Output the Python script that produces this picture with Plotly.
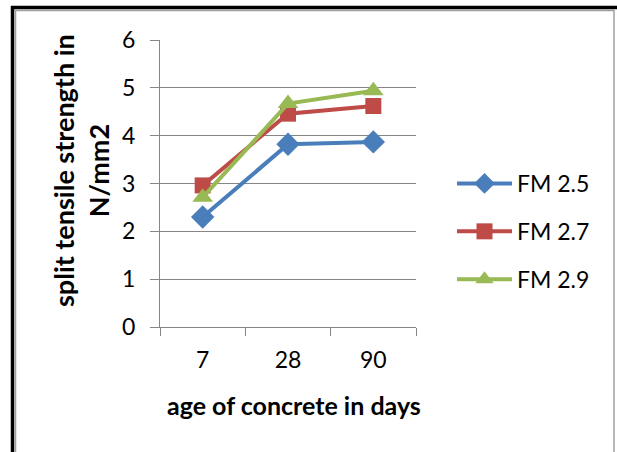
import plotly.graph_objects as go

ages = ["7", "28", "90"]
fm25 = [2.30, 3.82, 3.87]
fm27 = [2.96, 4.46, 4.62]
fm29 = [2.71, 4.67, 4.94]
series_names = ["FM 2.5", "FM 2.7", "FM 2.9"]
colors = ["#4A7EBB", "#BE4B48", "#98B954"]
symbols = ["diamond", "square", "triangle-up"]
marker_sizes = [18, 16, 18]

W, H = 617, 452
L, R, T, B = 160, 416, 40, 327

def px(x):
    return (x - L) / (R - L)

def py(y):
    return (B - y) / (B - T)

FONT = "Lato"
fig = go.Figure()
for i, vals in enumerate([fm25, fm27, fm29]):
    fig.add_trace(go.Scatter(
        x=ages, y=vals, name=series_names[i], mode="lines+markers",
        line=dict(color=colors[i], width=4),
        marker=dict(symbol=symbols[i], size=marker_sizes[i], color=colors[i]),
        legendgroup=series_names[i],
    ))

fig.update_layout(
    width=W, height=H,
    margin=dict(l=L, r=W - R, t=T, b=H - B),
    paper_bgcolor="white", plot_bgcolor="white",
    font=dict(family=FONT, size=23, color="#000000"),
    showlegend=True,
    legend=dict(x=px(452), y=py(162), xanchor="left", yanchor="top",
                traceorder="grouped", tracegroupgap=15,
                font=dict(family=FONT, size=23, color="#000000"),
                bgcolor="rgba(0,0,0,0)", itemwidth=55),
    xaxis=dict(type="category", range=[-0.5, 2.5], showgrid=False,
               showline=True, linecolor="#868686", linewidth=1,
               ticks="outside", tickson="boundaries", ticklen=8, tickcolor="#868686",
               tickfont=dict(family=FONT, size=23), ticklabelstandoff=12,
               zeroline=False),
    yaxis=dict(range=[0, 6], dtick=1, showgrid=True, gridcolor="#868686", gridwidth=1,
               showline=True, linecolor="#868686", linewidth=1,
               ticks="outside", ticklen=9, tickcolor="#868686",
               tickfont=dict(family=FONT, size=23), ticklabelstandoff=10,
               zeroline=False),
)

fig.add_annotation(x=px(81), y=py(171), xref="paper", yref="paper",
                   text="<b>split tensile strength in<br>N/mm2</b>", textangle=-90,
                   showarrow=False, font=dict(family=FONT, size=27),
                   xanchor="center", yanchor="middle")
fig.add_annotation(x=px(294), y=py(405), xref="paper", yref="paper",
                   text="<b>age of concrete in days</b>",
                   showarrow=False, font=dict(family=FONT, size=25),
                   xanchor="center", yanchor="middle")

# chart frame
fig.add_shape(type="line", xref="paper", yref="paper", x0=px(15.5), x1=px(15.5), y0=py(10), y1=py(460),
              line=dict(color="#A0A0A0", width=1.5))
fig.add_shape(type="line", xref="paper", yref="paper", x0=px(15), x1=px(614), y0=py(10.5), y1=py(10.5),
              line=dict(color="#A0A0A0", width=1.5))
fig.add_shape(type="line", xref="paper", yref="paper", x0=px(614), x1=px(614), y0=py(10), y1=py(460),
              line=dict(color="#A0A0A0", width=1.5))
fig.add_shape(type="line", xref="paper", yref="paper", x0=px(12.5), x1=px(12.5), y0=py(6), y1=py(460),
              line=dict(color="#000000", width=3.5))
fig.add_shape(type="line", xref="paper", yref="paper", x0=px(11), x1=px(620), y0=py(7.5), y1=py(7.5),
              line=dict(color="#000000", width=3.5))

fig.write_html("out.html")
